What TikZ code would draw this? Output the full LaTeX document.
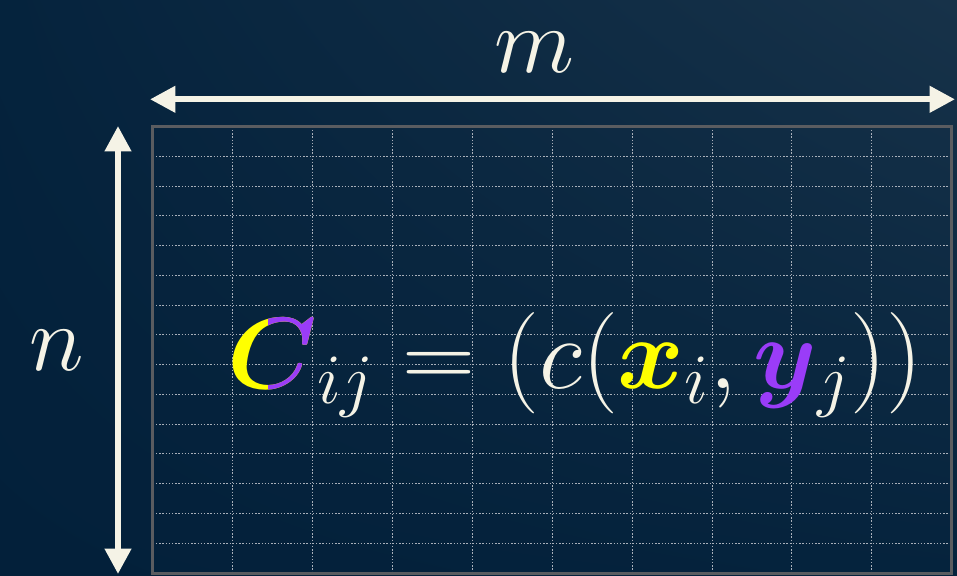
\documentclass[tikz,border=0pt]{standalone}
\usepackage{fix-cm}
\usepackage{amsmath,bm}
\usetikzlibrary{arrows.meta,shadings}
\definecolor{bgll}{HTML}{03203A}
\definecolor{bgmid}{HTML}{05233D}
\definecolor{bgur}{HTML}{173249}
\definecolor{cream}{HTML}{F5F3E6}
\definecolor{cyel}{HTML}{FFFF00}
\definecolor{cpur}{HTML}{9A3CF8}
\definecolor{frame}{HTML}{5A5C60}
\definecolor{gridc}{HTML}{A9B0BA}
\tikzset{
  dimarrow/.style={draw=cream, line width=4.5pt, {Triangle[length=19pt,width=19pt]}-{Triangle[length=19pt,width=19pt]}},
  dimlabel/.style={text=cream, inner sep=0pt, anchor=base, font=\fontsize{70}{76}\selectfont},
  eqnode/.style={text=cream, inner sep=0pt, anchor=base west, font=\fontsize{76}{84}\selectfont},
  gridline/.style={draw=gridc, line width=0.7pt, dash pattern=on 1.1pt off 1.3pt},
  frameline/.style={draw=frame, line width=2.2pt}
}
\newcommand{\myformula}[1]{$\smash[b]{\bm{\textcolor{#1}{C}}}_{ij} = (c(\smash[b]{\bm{\textcolor{cyel}{x}}}_i, \smash[b]{\bm{\textcolor{cpur}{y}}}_j))$}
\begin{document}
\begin{tikzpicture}[x=0.75pt,y=-0.75pt]
  \useasboundingbox (0,0) rectangle (957,575);
  \shade[upper left=bgmid, upper right=bgur, lower left=bgll, lower right=bgmid] (0,0) rectangle (957,575);
  % grid
  \foreach \k in {1,...,9} {
    \draw[gridline] ({152.7+79.9*\k},126.7) -- ({152.7+79.9*\k},573);
  }
  \foreach \k in {1,...,14} {
    \draw[gridline] (152.7,{126.7+29.75*\k}) -- (951.7,{126.7+29.75*\k});
  }
  \draw[frameline] (152.7,126.7) rectangle (951.7,573.2);
  % dimension arrows
  \coordinate (mL) at (150,99.3);
  \coordinate (mR) at (955,99.3);
  \coordinate (nT) at (118,126);
  \coordinate (nB) at (118,574);
  \draw[dimarrow] (mL) -- (mR);
  \draw[dimarrow] (nT) -- (nB);
  \node[dimlabel] (mlab) at (534,72) {$m$};
  \node[dimlabel] (nlab) at (57,370) {$n$};
  % formula with two-coloured C
  \node[eqnode] (eq) at (227,388) {\myformula{cyel}};
  \begin{scope}
    \clip (268,300) rectangle (314,400);
    \node[eqnode] (eqb) at (227,388) {\myformula{cpur}};
  \end{scope}
\end{tikzpicture}
\end{document}
